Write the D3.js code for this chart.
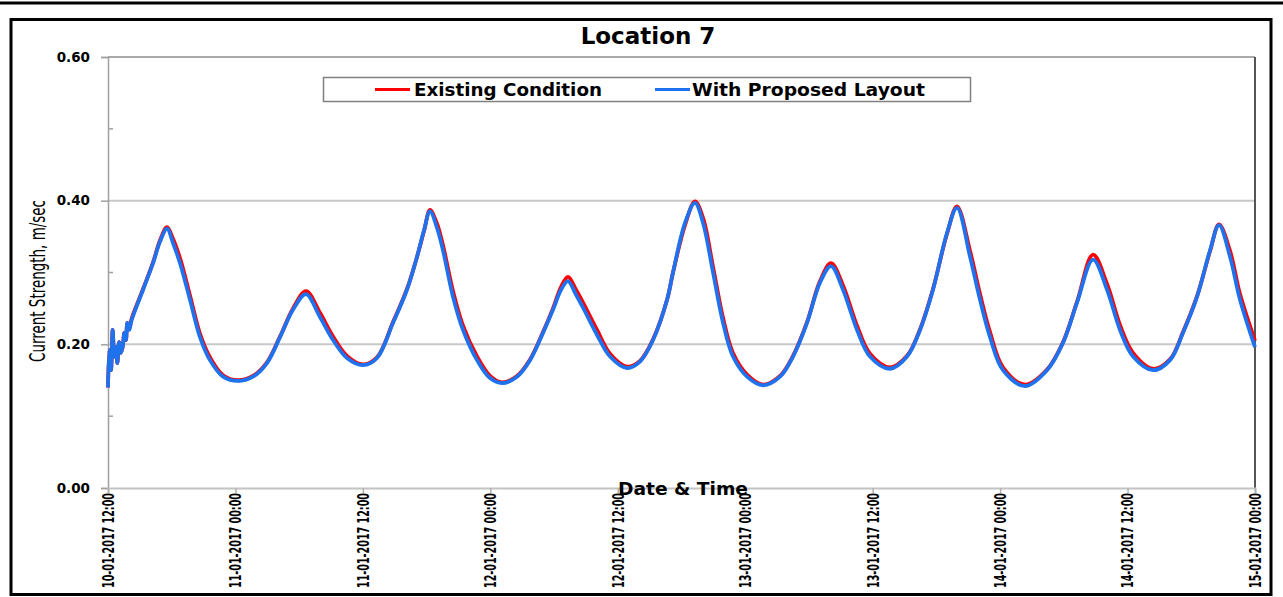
<!DOCTYPE html>
<html>
<head>
<meta charset="utf-8">
<script src="https://cdn.jsdelivr.net/npm/d3@7"></script>
<style>
  html, body { margin: 0; padding: 0; background: #fff; }
  svg { display: block; }
  text { font-family: "DejaVu Sans", Verdana, sans-serif; fill: #000; }
</style>
</head>
<body>
<svg id="chart" width="1283" height="597"></svg>
<script>
// Hours elapsed since 10-01-2017 12:00
const hours = [
  0, 0.12, 0.28, 0.44, 0.59, 0.75, 0.88, 1.04, 1.2, 1.38, 1.54, 1.69, 1.82, 2.0, 2.23,
  3.3, 4.24, 4.9, 5.56, 6.12, 6.78, 7.72, 8.66, 9.6, 10.83,
  12.24, 13.65, 14.97, 16.2, 17.42, 18.64, 19.96, 21.19, 22.5, 24.01,
  25.33, 26.84, 28.15, 29.1, 29.76, 30.32, 30.98, 31.54, 32.49, 33.43,
  34.75, 35.97, 37.1, 38.51, 39.74, 40.96, 41.9, 42.66, 43.31, 44.07,
  44.73, 46.05, 47.27, 48.87, 50.09, 51.32, 52.64, 53.2, 54.33, 55.27,
  56.03, 56.97, 57.91, 58.85, 60.17, 61.68, 63.28, 64.5, 65.82, 67.04,
  68.08, 69.21, 70.53, 71.75, 73.63, 75.24, 76.46, 77.68, 79.0, 79.94,
  81.17, 82.11, 83.05, 84.27, 86.35, 88.42, 89.92, 91.24, 92.75, 94.07,
  95.29, 96.52, 98.4, 100.0, 101.22, 102.54, 103.77, 104.61, 105.65, 106.59, 108.0
];

// Current strength (m/sec), existing condition
const existing = [
  0.140, 0.192, 0.164, 0.220, 0.183, 0.196, 0.174, 0.203, 0.188, 0.196, 0.216, 0.206, 0.230, 0.222, 0.236,
  0.277, 0.314, 0.345, 0.363, 0.347, 0.320, 0.268, 0.215, 0.182, 0.157,
  0.150, 0.156, 0.175, 0.211, 0.250, 0.274, 0.244, 0.211, 0.184, 0.172,
  0.182, 0.231, 0.277, 0.322, 0.358, 0.387, 0.368, 0.338, 0.274, 0.226,
  0.183, 0.156, 0.147, 0.156, 0.179, 0.217, 0.250, 0.280, 0.294, 0.276,
  0.258, 0.220, 0.187, 0.169, 0.177, 0.207, 0.262, 0.300, 0.366, 0.399,
  0.376, 0.308, 0.237, 0.188, 0.158, 0.144, 0.156, 0.184, 0.231, 0.288,
  0.313, 0.282, 0.226, 0.187, 0.168, 0.184, 0.221, 0.277, 0.354, 0.392,
  0.330, 0.270, 0.217, 0.168, 0.144, 0.165, 0.203, 0.259, 0.325, 0.284,
  0.227, 0.188, 0.166, 0.179, 0.217, 0.267, 0.330, 0.367, 0.330, 0.270, 0.205
];

// Current strength (m/sec), with proposed layout
const proposed = [
  0.140, 0.192, 0.164, 0.220, 0.183, 0.196, 0.174, 0.203, 0.188, 0.196, 0.216, 0.206, 0.230, 0.220, 0.234,
  0.276, 0.313, 0.343, 0.361, 0.341, 0.313, 0.262, 0.210, 0.178, 0.155,
  0.149, 0.155, 0.174, 0.210, 0.248, 0.270, 0.238, 0.206, 0.181, 0.171,
  0.181, 0.230, 0.276, 0.322, 0.359, 0.385, 0.362, 0.331, 0.266, 0.220,
  0.178, 0.153, 0.146, 0.155, 0.178, 0.216, 0.248, 0.276, 0.288, 0.269,
  0.251, 0.213, 0.183, 0.167, 0.176, 0.206, 0.262, 0.300, 0.369, 0.397,
  0.369, 0.300, 0.230, 0.183, 0.155, 0.143, 0.155, 0.183, 0.230, 0.286,
  0.309, 0.276, 0.220, 0.183, 0.166, 0.183, 0.220, 0.276, 0.355, 0.390,
  0.322, 0.262, 0.210, 0.164, 0.142, 0.164, 0.202, 0.258, 0.318, 0.276,
  0.220, 0.183, 0.164, 0.178, 0.216, 0.266, 0.331, 0.366, 0.322, 0.262, 0.196
];

const xTickLabels = [
  "10-01-2017 12:00", "11-01-2017 00:00", "11-01-2017 12:00", "12-01-2017 00:00",
  "12-01-2017 12:00", "13-01-2017 00:00", "13-01-2017 12:00", "14-01-2017 00:00",
  "14-01-2017 12:00", "15-01-2017 00:00"
];
const yMajorTicks = [0, 0.2, 0.4, 0.6];
const yMinorTicks = [0.1, 0.3, 0.5];
const seriesNames = ["Existing Condition", "With Proposed Layout"];
const seriesColors = ["#ff0000", "#1f72ee"];

const parseTime = d3.timeParse("%d-%m-%Y %H:%M");
const formatTime = d3.timeFormat("%d-%m-%Y %H:%M");
const start = parseTime(xTickLabels[0]);
const end = parseTime(xTickLabels[xTickLabels.length - 1]);
const toDate = h => new Date(start.getTime() + h * 3600 * 1000);

const svg = d3.select("#chart");
const plot = { left: 108, right: 1255, top: 57, bottom: 488 };

const x = d3.scaleTime().domain([start, end]).range([plot.left, plot.right]);
const y = d3.scaleLinear().domain([0, 0.6]).range([plot.bottom, plot.top]);

// page rule and chart frame
svg.append("line").attr("x1", 0).attr("x2", 1283).attr("y1", 3).attr("y2", 3)
  .attr("stroke", "#000").attr("stroke-width", 3);
svg.append("rect").attr("x", 11).attr("y", 19.5).attr("width", 1260).attr("height", 575)
  .attr("fill", "#fff").attr("stroke", "#000").attr("stroke-width", 3);

// horizontal gridlines
svg.append("g").selectAll("line").data(yMajorTicks.filter(v => v > 0 && v < 0.6)).join("line")
  .attr("x1", plot.left).attr("x2", plot.right)
  .attr("y1", d => y(d)).attr("y2", d => y(d))
  .attr("stroke", "#c8c8c8").attr("stroke-width", 2);

// plot frame: top and right edges
svg.append("line").attr("x1", plot.left).attr("x2", plot.right)
  .attr("y1", y(0.6)).attr("y2", y(0.6)).attr("stroke", "#8c8c8c").attr("stroke-width", 1.5);
svg.append("line").attr("x1", plot.right).attr("x2", plot.right)
  .attr("y1", y(0.6)).attr("y2", y(0)).attr("stroke", "#555").attr("stroke-width", 2);

// y axis
const yAxis = svg.append("g").attr("transform", `translate(${plot.left},0)`)
  .call(d3.axisLeft(y).tickValues(yMajorTicks).tickFormat(d3.format(".2f")).tickSize(7).tickPadding(11));
yAxis.select(".domain").attr("stroke", "#a0a0a0").attr("stroke-width", 1.5);
yAxis.selectAll(".tick line").attr("stroke", "#a0a0a0").attr("stroke-width", 1.5);
yAxis.selectAll(".tick text").attr("font-family", "DejaVu Sans").attr("font-weight", "bold")
  .attr("font-size", "13.5px").attr("fill", "#000");
svg.append("g").selectAll("line").data(yMinorTicks).join("line")
  .attr("x1", plot.left).attr("x2", plot.left + 5)
  .attr("y1", d => y(d)).attr("y2", d => y(d))
  .attr("stroke", "#a0a0a0").attr("stroke-width", 1.5);

// x axis
const xAxis = svg.append("g").attr("transform", `translate(0,${plot.bottom})`)
  .call(d3.axisBottom(x).tickValues(xTickLabels.map(parseTime)).tickFormat(formatTime).tickSize(5));
xAxis.select(".domain").attr("stroke", "#c4c4c4").attr("stroke-width", 2);
xAxis.selectAll(".tick line").attr("stroke", "#b0b0b0").attr("stroke-width", 1.5);
xAxis.selectAll(".tick text")
  .attr("font-family", "DejaVu Sans").attr("font-weight", "bold").attr("font-size", "15px")
  .attr("fill", "#000")
  .attr("text-anchor", "end")
  .attr("transform", "rotate(-90)")
  .attr("x", -5).attr("y", 0).attr("dy", "0.36em")
  .attr("textLength", 95).attr("lengthAdjust", "spacingAndGlyphs");

// series
const line = d3.line()
  .x((d, i) => x(toDate(hours[i])))
  .y(d => y(d))
  .curve(d3.curveCatmullRom.alpha(0.5));
[existing, proposed].forEach((vals, k) => {
  svg.append("path").datum(vals)
    .attr("fill", "none")
    .attr("stroke", seriesColors[k])
    .attr("stroke-width", 3.8)
    .attr("stroke-linejoin", "round")
    .attr("d", line);
});

// titles
svg.append("text").attr("x", 648).attr("y", 44).attr("text-anchor", "middle")
  .attr("font-weight", "bold").attr("font-size", "23px").text("Location 7");
svg.append("text").attr("x", 683).attr("y", 495).attr("text-anchor", "middle")
  .attr("font-weight", "bold").attr("font-size", "17px")
  .attr("textLength", 130).attr("lengthAdjust", "spacingAndGlyphs")
  .text("Date & Time");
svg.append("text").attr("transform", "translate(44.5,281) rotate(-90)")
  .attr("text-anchor", "middle").attr("font-size", "21px")
  .attr("textLength", 162).attr("lengthAdjust", "spacingAndGlyphs")
  .text("Current Strength, m/sec");

// legend
const legend = svg.append("g");
legend.append("rect").attr("x", 323.5).attr("y", 77.5).attr("width", 647).attr("height", 24)
  .attr("fill", "#fff").attr("stroke", "#808080").attr("stroke-width", 1.5);
const legendItems = [
  { x1: 375, x2: 410, tx: 414, len: 188 },
  { x1: 655, x2: 690, tx: 692, len: 233 }
];
legendItems.forEach((it, k) => {
  legend.append("line").attr("x1", it.x1).attr("x2", it.x2).attr("y1", 89.5).attr("y2", 89.5)
    .attr("stroke", seriesColors[k]).attr("stroke-width", 3);
  legend.append("text").attr("x", it.tx).attr("y", 95.5)
    .attr("font-weight", "bold").attr("font-size", "17px")
    .attr("textLength", it.len).attr("lengthAdjust", "spacingAndGlyphs")
    .text(seriesNames[k]);
});
</script>
</body>
</html>
